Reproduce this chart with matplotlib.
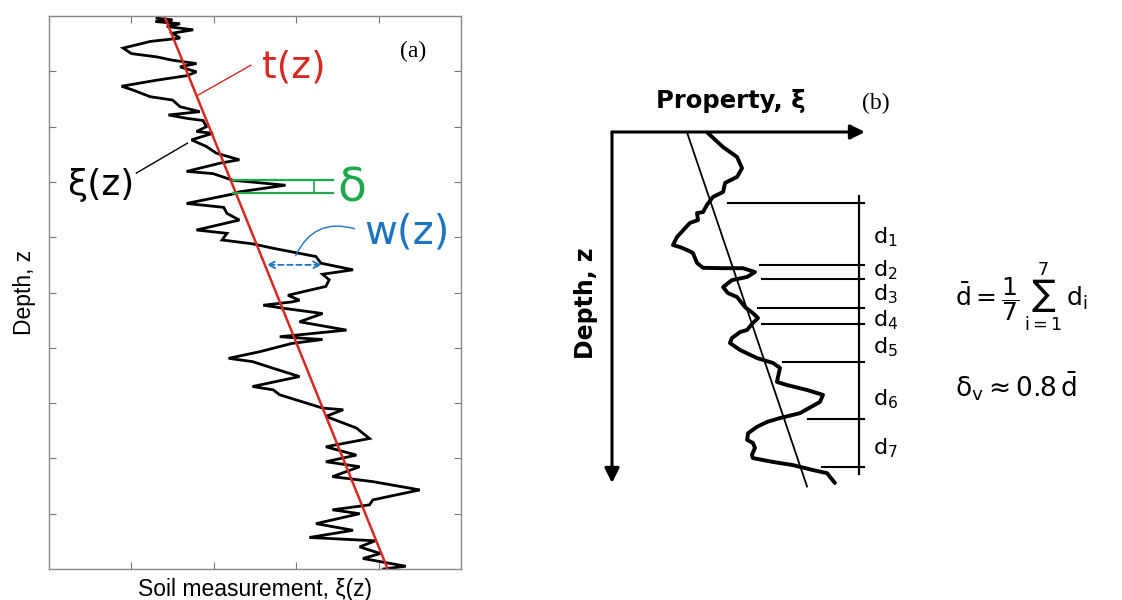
import matplotlib
matplotlib.use("Agg")
import matplotlib.pyplot as plt

plt.rcParams["mathtext.fontset"] = "dejavusans"
plt.rcParams["mathtext.default"] = "regular"

# ---------------- (a) measured soil profile ----------------
depth_a = [0.04, 0.07, 0.10, 0.14, 0.19, 0.25, 0.31, 0.40, 0.46, 0.58, 0.68, 0.74,
           0.80, 0.86, 0.92, 1.01, 1.08, 1.16, 1.27, 1.34, 1.46, 1.52, 1.64, 1.73,
           1.79, 1.85, 1.89, 2.00, 2.09, 2.12, 2.24, 2.36, 2.48, 2.60, 2.66, 2.81,
           2.85, 2.97, 3.06, 3.18, 3.22, 3.39, 3.46, 3.57, 3.69, 3.87, 3.93, 4.05,
           4.12, 4.20, 4.35, 4.47, 4.59, 4.67, 4.77, 4.89, 5.05, 5.14, 5.17, 5.23,
           5.29, 5.38, 5.53, 5.68, 5.80, 5.85, 5.92, 6.07, 6.19, 6.25, 6.37, 6.52,
           6.70, 6.76, 6.85, 7.09, 7.12, 7.24, 7.45, 7.64, 7.79, 7.94, 8.06, 8.15,
           8.33, 8.42, 8.57, 8.75, 8.84, 8.93, 9.00, 9.18, 9.30, 9.43, 9.49, 9.60,
           9.72, 9.81, 9.95, 10.0]
meas_a = [1.31, 1.50, 1.29, 1.59, 1.43, 1.75, 1.50, 1.59, 1.23, 0.90, 1.00, 1.31,
          1.50, 1.79, 1.59, 1.79, 1.67, 1.31, 0.88, 1.02, 1.23, 1.50, 1.59, 1.83,
          1.45, 1.67, 1.87, 1.91, 1.79, 1.99, 1.73, 1.91, 2.03, 2.31, 2.08, 1.67,
          1.99, 2.23, 2.87, 2.31, 2.23, 1.67, 2.12, 2.16, 2.31, 1.79, 2.16, 2.10,
          2.47, 2.72, 3.24, 3.30, 3.69, 3.32, 3.40, 3.36, 2.90, 3.04, 2.95, 2.60,
          2.87, 3.32, 3.04, 3.61, 2.80, 3.32, 2.95, 2.56, 2.18, 2.47, 2.72, 3.04,
          2.47, 2.72, 2.80, 3.32, 3.57, 3.36, 3.73, 3.89, 3.36, 3.73, 3.36, 3.77,
          3.44, 3.93, 4.50, 3.93, 3.89, 3.44, 3.77, 3.24, 3.69, 3.16, 3.96, 3.77,
          4.02, 3.81, 4.33, 4.06]
trend_depth_a = [0.0, 10.0]
trend_meas_a = [1.40, 4.11]

# delta marker depths and w(z) arrow extent
delta_depths = [2.97, 3.20]
delta_x = [2.23, 3.45]
w_x = [2.64, 3.31]
w_depth = 4.50

# ---------------- (b) idealised profile ----------------
depth_b = [0.03, 0.43, 0.71, 1.03, 1.28, 1.45, 1.71, 1.85, 2.08, 2.28, 2.31, 2.51,
           2.59, 2.99, 3.22, 3.28, 3.36, 3.40, 3.45, 3.73, 3.87, 3.88, 3.88, 3.99,
           4.13, 4.22, 4.42, 4.59, 4.70, 4.99, 5.16, 5.30, 5.44, 5.64, 5.70, 5.87,
           6.01, 6.21, 6.44, 6.58, 6.72, 6.98, 7.12, 7.21, 7.35, 7.49, 7.69, 8.01,
           8.15, 8.26, 8.40, 8.58, 8.77, 8.86, 9.00, 9.20, 9.29, 9.40, 9.49, 9.63,
           9.72, 10.0]
prop_b = [3.79, 4.39, 4.94, 5.14, 4.94, 4.47, 4.39, 3.99, 3.75, 3.60, 3.36, 3.40,
          3.08, 2.57, 2.41, 2.69, 2.96, 3.08, 3.20, 3.36, 3.60, 4.39, 5.18, 5.65,
          5.34, 4.74, 4.39, 4.58, 4.94, 5.26, 5.57, 5.77, 5.57, 5.34, 5.06, 4.74,
          4.66, 5.06, 5.73, 6.36, 6.64, 6.56, 6.52, 6.92, 7.71, 8.34, 8.22, 7.43,
          6.64, 6.13, 5.73, 5.38, 5.34, 5.57, 5.65, 5.53, 5.57, 6.36, 7.15, 7.94,
          8.50, 8.81]
trend_depth_b = [0.0, 10.1]
trend_prop_b = [2.96, 7.71]

crossing_depths = [2.02, 3.79, 4.19, 5.01, 5.47, 6.55, 8.18, 9.54]
crossing_start = [4.58, 5.85, 5.93, 5.77, 5.93, 6.76, 7.75, 8.30]
interval_labels = ["1", "2", "3", "4", "5", "6", "7"]
interval_label_depths = [3.0, 3.93, 4.62, 5.36, 6.12, 7.6, 9.0]

W, H = 1122, 600
fig = plt.figure(figsize=(W / 100, H / 100), dpi=100)

red = "#d42a22"
green = "#1ea84a"
blue = "#1f74c2"
sans = "DejaVu Sans"

# ---------------- panel (a) ----------------
ax = fig.add_axes([49 / W, 1 - 569 / H, (461 - 49) / W, (569 - 16) / H])
ax.set_xlim(0, 5)
ax.set_ylim(10, 0)
ax.plot(meas_a, depth_a, color="black", lw=2.0, solid_joinstyle="miter")
ax.plot(trend_meas_a, trend_depth_a, color=red, lw=1.8)
ax.set_xticks([1, 2, 3, 4])
ax.set_yticks(range(1, 10))
ax.set_xticklabels([])
ax.set_yticklabels([])
ax.tick_params(direction="in", top=True, right=True, length=5, color="#777777")
for s in ax.spines.values():
    s.set_color("#888888")
    s.set_linewidth(1.0)
ax.set_ylabel("Depth, z", fontsize=16.5, family="Liberation Sans", labelpad=6)
ax.set_xlabel("Soil measurement, ξ(z)", fontsize=16.5, family="Liberation Sans", labelpad=3)

ax.text(4.42, 0.65, "(a)", fontsize=17, family="Liberation Serif", ha="center", va="center")

# t(z) label with leader
ax.text(2.97, 0.93, "t(z)", color=red, fontsize=27, family=sans, ha="center", va="center")
ax.plot([2.45, 1.81], [0.89, 1.43], color=red, lw=1.0)

# xi(z) label with leader
ax.text(1.04, 3.06, "ξ(z)", color="black", fontsize=26, family=sans, ha="right", va="center")
ax.plot([1.06, 1.68], [2.84, 2.30], color="black", lw=1.0)

# delta
ax.plot(delta_x, [delta_depths[0]] * 2, color=green, lw=1.6)
ax.plot(delta_x, [delta_depths[1]] * 2, color=green, lw=1.6)
ax.plot([3.22, 3.22], delta_depths, color=green, lw=1.2)
ax.text(3.67, 3.12, "δ", color=green, fontsize=34, family=sans, ha="center", va="center")

# w(z)
ax.text(4.34, 3.91, "w(z)", color=blue, fontsize=29, family=sans, ha="center", va="center")
ax.annotate("", xy=(2.98, 4.38), xytext=(3.74, 3.86),
            arrowprops=dict(arrowstyle="-", color=blue, lw=1.0,
                            connectionstyle="arc3,rad=0.45"))
ax.annotate("", xy=(w_x[0], w_depth), xytext=(w_x[1], w_depth),
            arrowprops=dict(arrowstyle="<->", color=blue, lw=1.3, linestyle=(0, (3, 2)),
                            mutation_scale=12, shrinkA=0, shrinkB=0))

# ---------------- panel (b) ----------------
bx = fig.add_axes([612 / W, 1 - 483 / H, (865 - 612) / W, (483 - 132) / H])
bx.set_xlim(0, 10)
bx.set_ylim(10, 0)
bx.axis("off")

# axes arrows
bx.annotate("", xy=(10, 0), xytext=(0, 0),
            arrowprops=dict(arrowstyle="-|>", color="black", lw=2.2, mutation_scale=22,
                            shrinkA=0, shrinkB=0), annotation_clip=False)
bx.annotate("", xy=(0, 10), xytext=(0, 0),
            arrowprops=dict(arrowstyle="-|>", color="black", lw=2.2, mutation_scale=22,
                            shrinkA=0, shrinkB=0), annotation_clip=False)

bx.plot(trend_prop_b, trend_depth_b, color="black", lw=1.3, clip_on=False)
bx.plot(prop_b, depth_b, color="black", lw=2.8, clip_on=False,
        solid_joinstyle="round", solid_capstyle="round")

for d, x0 in zip(crossing_depths, crossing_start):
    bx.plot([x0, 9.95], [d, d], color="black", lw=1.5, clip_on=False)
    bx.plot([9.76, 9.76], [d - 0.12, d + 0.12], color="black", lw=1.2, clip_on=False)
bx.plot([9.76, 9.76], [crossing_depths[0] - 0.2, crossing_depths[-1] + 0.2],
        color="black", lw=1.6, clip_on=False)

for lab, d in zip(interval_labels, interval_label_depths):
    bx.text(10.3, d, r"d$_{%s}$" % lab, fontsize=16, family=sans,
            ha="left", va="center", clip_on=False)

fig.text(731 / W, 1 - 101 / H, "Property, ξ", fontsize=17.5, fontweight="bold",
         family=sans, ha="center", va="center")
fig.text(876 / W, 1 - 103 / H, "(b)", fontsize=17, family="Liberation Serif",
         ha="center", va="center")
fig.text(586 / W, 1 - 303 / H, "Depth, z", fontsize=17, fontweight="bold",
         family=sans, ha="center", va="center", rotation=90)

fig.text(955 / W, 1 - 297 / H, r"$\bar{d} = \dfrac{1}{7}\,\sum_{i=1}^{7}\, d_i$",
         fontsize=18, ha="left", va="center")
fig.text(955 / W, 1 - 386 / H, r"$\delta_v \approx 0.8\,\bar{d}$",
         fontsize=19, ha="left", va="center")

fig.savefig("out.png", dpi=100)
